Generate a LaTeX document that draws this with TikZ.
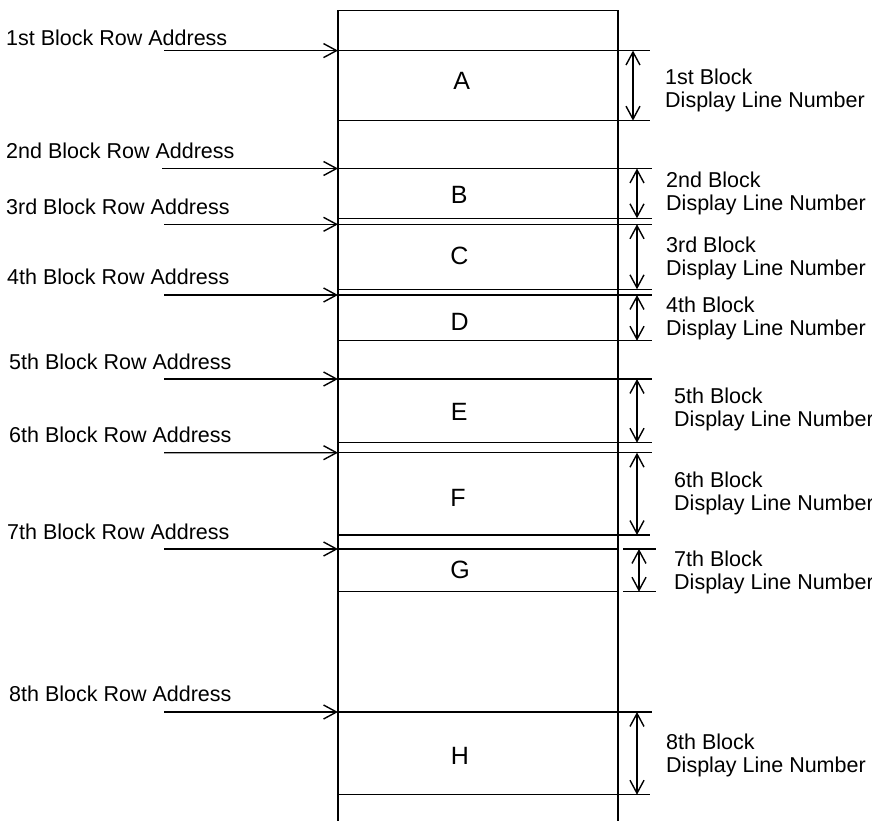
\documentclass[tikz,border=0pt]{standalone}
\usepackage{fontspec}
\setmainfont{Liberation Sans}
\usepackage{tikz}
\usetikzlibrary{arrows.meta,positioning}
\tikzset{
  blockbox/.style={draw,minimum width=280pt,inner sep=0pt,outer sep=0pt,line width=1.4pt},
  blockletter/.style={inner sep=0pt,font=\fontsize{25}{28}\selectfont},
  rowlabel/.style={anchor=west,inner sep=0pt,font=\fontsize{21.5}{23}\selectfont},
  linelabel/.style={anchor=west,inner sep=0pt,align=left,font=\fontsize{21.5}{23}\selectfont},
  addrarrow/.style={-{Straight Barb[length=13pt,width=14pt]},line width=1.4pt},
  dimarrow/.style={{Straight Barb[length=13pt,width=14pt]}-{Straight Barb[length=13pt,width=14pt]},line width=1.4pt},
  extline/.style={line width=1.4pt},
}

\begin{document}
\begin{tikzpicture}[x=1pt,y=-1pt]
			\useasboundingbox (0,0) rectangle (872,821);
			\clip (0,0) rectangle (872,821);
			\draw[extline] (338,830) -- (338,10.5) -- (618,10.5) -- (618,830);
			\node[blockbox,minimum height=70pt] (A) at (478,85.6) {};
			\node[blockbox,minimum height=49.8pt] (B) at (478,193.4) {};
			\node[blockbox,minimum height=65pt] (C) at (478,256.8) {};
			\node[blockbox,minimum height=45.7pt] (D) at (478,317.85) {};
			\node[blockbox,minimum height=63.7pt] (E) at (478,410.85) {};
			\node[blockbox,minimum height=82.3pt] (F) at (478,493.85) {};
			\node[blockbox,minimum height=42.7pt] (G) at (478,570.35) {};
			\node[blockbox,minimum height=82.7pt] (H) at (478,753.35) {};
			\node[blockletter] (lA) at (461.7,80.5) {A};
			\node[blockletter] (lB) at (459.2,195.3) {B};
			\node[blockletter] (lC) at (459.5,255.8) {C};
			\node[blockletter] (lD) at (459.7,321.7) {D};
			\node[blockletter] (lE) at (459.2,411.7) {E};
			\node[blockletter] (lF) at (458,498.3) {F};
			\node[blockletter] (lG) at (460,570.3) {G};
			\node[blockletter] (lH) at (460,756.3) {H};
			\node[rowlabel] (rowA) at (6,37.5) {1st Block Row Address};
			\node[rowlabel] (rowB) at (6,150.7) {2nd Block Row Address};
			\node[rowlabel] (rowC) at (6,206.7) {3rd Block Row Address};
			\node[rowlabel] (rowD) at (7,276.7) {4th Block Row Address};
			\node[rowlabel] (rowE) at (9,361.7) {5th Block Row Address};
			\node[rowlabel] (rowF) at (9,435) {6th Block Row Address};
			\node[rowlabel] (rowG) at (7,531.7) {7th Block Row Address};
			\node[rowlabel] (rowH) at (9,694.3) {8th Block Row Address};
			\coordinate (sA) at (164,50.6);
			\coordinate (sB) at (162,168.5);
			\coordinate (sC) at (164,224.3);
			\coordinate (sD) at (164,295);
			\coordinate (sE) at (164,379);
			\coordinate (sF) at (164,452.7);
			\coordinate (sG) at (164,549);
			\coordinate (sH) at (164,712);
			\draw[addrarrow] (sA)--(A.north west);
			\draw[addrarrow] (sB)--(B.north west);
			\draw[addrarrow] (sC)--(C.north west);
			\draw[addrarrow] (sD)--(D.north west);
			\draw[addrarrow] (sE)--(E.north west);
			\draw[addrarrow] (sF)--(F.north west);
			\draw[addrarrow] (sG)--(G.north west);
			\draw[addrarrow] (sH)--(H.north west);
			\draw[extline] (A.north east)--++(32,0);
			\draw[extline] (A.south east)--++(32,0);
			\draw[extline] (B.north east)--++(34,0);
			\draw[extline] (B.south east)--++(34,0);
			\draw[extline] (C.north east)--++(34,0);
			\draw[extline] (C.south east)--++(34,0);
			\draw[extline] (D.north east)--++(34,0);
			\draw[extline] (D.south east)--++(34,0);
			\draw[extline] (E.north east)--++(34,0);
			\draw[extline] (E.south east)--++(34,0);
			\draw[extline] (F.north east)--++(34,0);
			\draw[extline] (F.south east)--++(32,0);
			\draw[extline] ([xshift=5pt]G.north east)--++(33,0);
			\draw[extline] ([xshift=5pt]G.south east)--++(33,0);
			\draw[extline] (H.north east)--++(34,0);
			\draw[extline] (H.south east)--++(32,0);
			\draw[dimarrow] ([xshift=15pt]A.north east)--([xshift=15pt]A.south east);
			\draw[dimarrow] ([xshift=19pt]B.north east)--([xshift=19pt]B.south east);
			\draw[dimarrow] ([xshift=19pt]C.north east)--([xshift=19pt]C.south east);
			\draw[dimarrow] ([xshift=19pt]D.north east)--([xshift=19pt]D.south east);
			\draw[dimarrow] ([xshift=19pt]E.north east)--([xshift=19pt]E.south east);
			\draw[dimarrow] ([xshift=19pt]F.north east)--([xshift=19pt]F.south east);
			\draw[dimarrow] ([xshift=21pt]G.north east)--([xshift=21pt]G.south east);
			\draw[dimarrow] ([xshift=19pt]H.north east)--([xshift=19pt]H.south east);
			\node[linelabel] (numA) at (665,90.9) {1st Block\\Display Line Number};
			\node[linelabel] (numB) at (666,193.3) {2nd Block\\Display Line Number};
			\node[linelabel] (numC) at (666,258.7) {3rd Block\\Display Line Number};
			\node[linelabel] (numD) at (666,318.7) {4th Block\\Display Line Number};
			\node[linelabel] (numE) at (674,409.8) {5th Block\\Display Line Number};
			\node[linelabel] (numF) at (674,493.3) {6th Block\\Display Line Number};
			\node[linelabel] (numG) at (674,572.8) {7th Block\\Display Line Number};
			\node[linelabel] (numH) at (666,755) {8th Block\\Display Line Number};
		\end{tikzpicture}
\end{document}
